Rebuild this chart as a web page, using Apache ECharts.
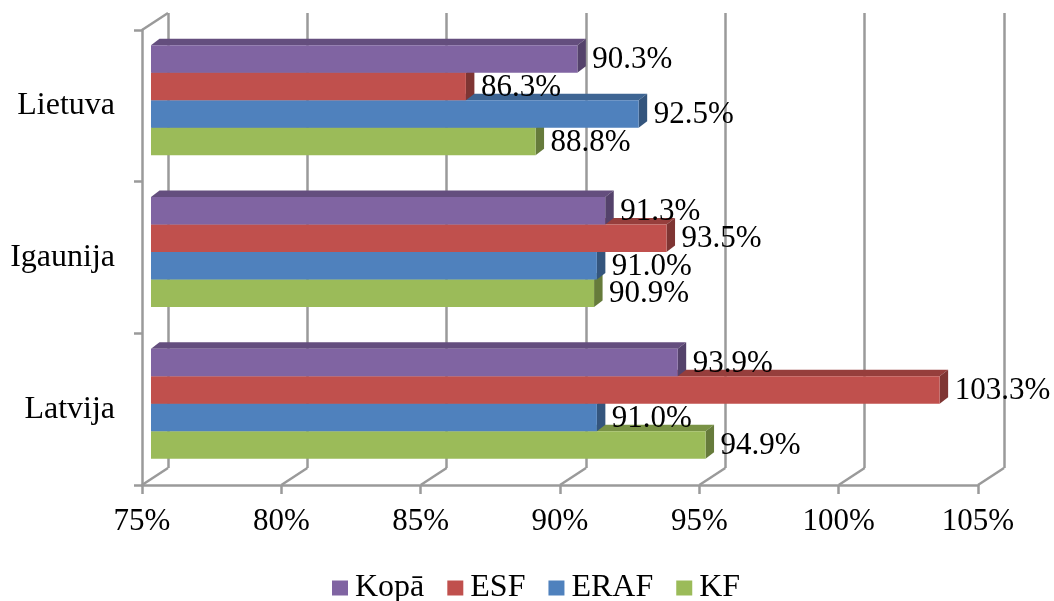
<!DOCTYPE html>
<html>
<head>
<meta charset="utf-8">
<script src="https://cdn.jsdelivr.net/npm/echarts@6/dist/echarts.min.js"></script>
<style>
html,body{margin:0;padding:0;background:#fff;}
#chart{width:1054px;height:601px;}
</style>
</head>
<body>
<div id="chart"></div>
<script>
// ---- data ----
const CATEGORIES = ['Latvija', 'Igaunija', 'Lietuva'];   // bottom -> top
const SERIES_NAMES = ['Kopā', 'ESF', 'ERAF', 'KF'];
const KOPA = [93.9, 91.3, 90.3];
const ESF  = [103.3, 93.5, 86.3];
const ERAF = [91.0, 91.0, 92.5];
const KF   = [94.9, 90.9, 88.8];
const TICKS = [75, 80, 85, 90, 95, 100, 105];

// ---- style constants ----
const COLORS = ['#8064A2', '#C0504D', '#4F81BD', '#9BBB59'];
const FONT = '"Liberation Serif", "Times New Roman", serif';
const GRID_COLOR = '#9a9a9a';
const LW = 2.5;
const AX_MIN = 75, AX_MAX = 105, AX_STEP = 5;
const WALL_DX = 26, WALL_DY = -17;   // back wall offset
const BAR_DX = 9, BAR_DY = -5.5;     // bar front plane offset
const SIDE_DX = 8.5, SIDE_DY = -6.5; // bar depth
const GROUP = 0.725;
const LBL_GAP = 15;

function shade(hex, f) {
  const n = parseInt(hex.slice(1), 16);
  const r = Math.round(((n >> 16) & 255) * f), g = Math.round(((n >> 8) & 255) * f), b = Math.round((n & 255) * f);
  return 'rgb(' + r + ',' + g + ',' + b + ')';
}

function barRenderer(idx) {
  const color = COLORS[idx], top = shade(color, 0.78), side = shade(color, 0.66);
  const zb = 10 - idx;
  return function (params, api) {
    const v = api.value(0), c = api.value(1);
    const p0 = api.coord([AX_MIN, c]);
    const p1 = api.coord([v, c]);
    const band = api.size([0, 1])[1];
    const gh = band * GROUP, th = gh / 4;
    const y0 = p0[1] - gh / 2 + idx * th + BAR_DY;
    const x0 = p0[0] + BAR_DX, x1 = p1[0] + BAR_DX;
    return {
      type: 'group',
      children: [
        { type: 'polygon', z2: zb, shape: { points: [[x0, y0], [x1, y0], [x1 + SIDE_DX, y0 + SIDE_DY], [x0 + SIDE_DX, y0 + SIDE_DY]] }, style: { fill: top } },
        { type: 'polygon', z2: zb, shape: { points: [[x1, y0], [x1 + SIDE_DX, y0 + SIDE_DY], [x1 + SIDE_DX, y0 + th + SIDE_DY], [x1, y0 + th]] }, style: { fill: side } },
        { type: 'rect', z2: zb, shape: { x: x0, y: y0, width: x1 - x0, height: th }, style: { fill: color } },
        { type: 'text', z2: 100, x: x1 + LBL_GAP, y: y0 + th / 2 + 1,
          style: { text: v.toFixed(1) + '%', fontSize: 31, fontFamily: FONT, fill: '#000', align: 'left', verticalAlign: 'middle' } }
      ]
    };
  };
}

function wallRenderer(params, api) {
  const v = api.value(0);
  const cs = params.coordSys;
  const x = api.coord([v, 0])[0];
  const bottom = cs.y + cs.height;
  const children = [
    { type: 'line', shape: { x1: x, y1: bottom, x2: x + WALL_DX, y2: bottom + WALL_DY }, style: { stroke: GRID_COLOR, lineWidth: LW } }
  ];
  if (params.dataIndex === 0) {
    children.push({ type: 'line', shape: { x1: x, y1: cs.y, x2: x + WALL_DX, y2: cs.y + WALL_DY }, style: { stroke: GRID_COLOR, lineWidth: LW } });
  }
  return { type: 'group', children: children };
}

const seriesData = [KOPA, ESF, ERAF, KF];

const chart = echarts.init(document.getElementById('chart'), null, { renderer: 'canvas' });
chart.setOption({
  animation: false,
  backgroundColor: '#fff',
  legend: {
    data: SERIES_NAMES.map(n => ({ name: n, icon: 'rect' })),
    left: 327, top: 566,
    itemWidth: 16, itemHeight: 15, itemGap: 23,
    selectedMode: false,
    textStyle: { fontSize: 32, lineHeight: 34, fontFamily: FONT, color: '#000', padding: [0, 0, 0, 2] }
  },
  grid: [
    { left: 142, right: 76, top: 30, bottom: 116 },
    { left: 142 + WALL_DX, right: 76 - WALL_DX, top: 30 + WALL_DY, bottom: 116 - WALL_DY }
  ],
  xAxis: [
    { gridIndex: 0, type: 'value', min: AX_MIN, max: AX_MAX, interval: AX_STEP,
      axisLine: { show: true, lineStyle: { color: GRID_COLOR, width: LW } },
      axisTick: { show: true, length: 9, lineStyle: { color: GRID_COLOR, width: LW } },
      splitLine: { show: false },
      axisLabel: { formatter: '{value}%', fontSize: 31, fontFamily: FONT, color: '#000', margin: 21 } },
    { gridIndex: 1, type: 'value', min: AX_MIN, max: AX_MAX, interval: AX_STEP,
      axisLine: { show: false }, axisTick: { show: false }, axisLabel: { show: false },
      splitLine: { show: true, showMinLine: true, showMaxLine: true, lineStyle: { color: GRID_COLOR, width: LW } } }
  ],
  yAxis: [
    { gridIndex: 0, type: 'category', data: CATEGORIES,
      axisLine: { show: true, lineStyle: { color: GRID_COLOR, width: LW } },
      axisTick: { show: true, length: 8, lineStyle: { color: GRID_COLOR, width: LW } },
      axisLabel: { fontSize: 32, fontFamily: FONT, color: '#000', margin: 27 } },
    { gridIndex: 1, type: 'category', data: CATEGORIES, show: false }
  ],
  series: [
    { type: 'custom', name: 'wall', silent: true, xAxisIndex: 0, yAxisIndex: 0, z: 1,
      renderItem: wallRenderer, data: TICKS.map(t => [t, 0]), encode: { x: 0, y: 1 } }
  ].concat(SERIES_NAMES.map((name, i) => ({
    type: 'custom', name: name, silent: true, xAxisIndex: 0, yAxisIndex: 0, z: 3,
    itemStyle: { color: COLORS[i] },
    renderItem: barRenderer(i),
    encode: { x: 0, y: 1 },
    data: seriesData[i].map((v, c) => [v, c])
  })))
});
</script>
</body>
</html>
